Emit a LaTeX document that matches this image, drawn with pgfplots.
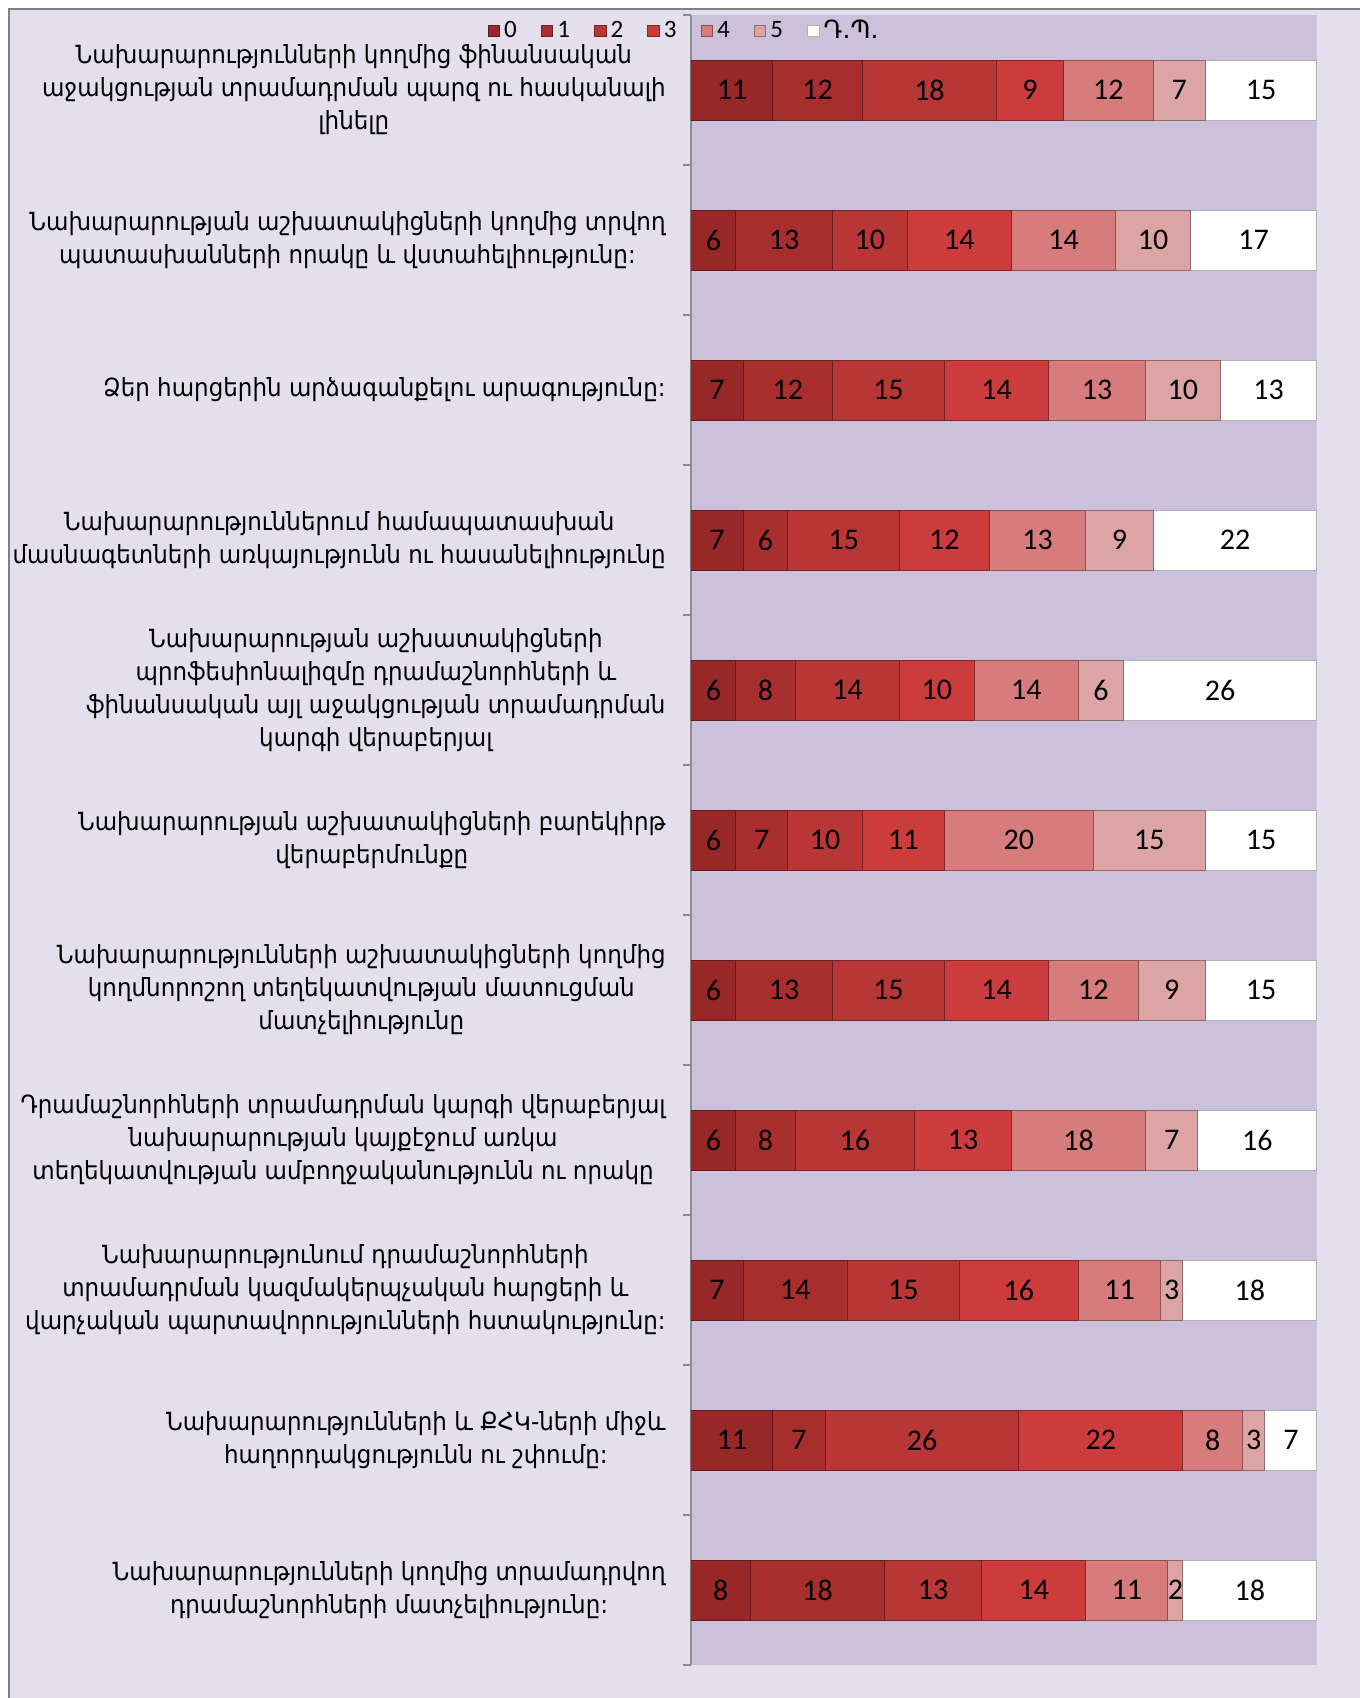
\documentclass[border=0pt]{standalone}
\usepackage{fontspec}
\setmainfont{Carlito}
\newfontfamily\armfont[FakeStretch=0.92]{DejaVu Sans}
\newfontfamily\armfontn{DejaVu Sans}
\usepackage{pgfplots}
\usepackage{pgfplotstable}
\pgfplotsset{compat=1.18}

\definecolor{chartbg}{RGB}{228,223,236}
\definecolor{plotbg}{RGB}{204,193,218}
\definecolor{cA}{RGB}{152,40,40}
\definecolor{cB}{RGB}{168,46,46}
\definecolor{cC}{RGB}{184,54,54}
\definecolor{cD}{RGB}{204,60,60}
\definecolor{cE}{RGB}{214,124,124}
\definecolor{cF}{RGB}{220,164,164}

\pgfplotstableread{
idx c0 c1 c2 c3 c4 c5 dp
0 11 12 18 9 12 7 15
1 6 13 10 14 14 10 17
2 7 12 15 14 13 10 13
3 7 6 15 12 13 9 22
4 6 8 14 10 14 6 26
5 6 7 10 11 20 15 15
6 6 13 15 14 12 9 15
7 6 8 16 13 18 7 16
8 7 14 15 16 11 3 18
9 11 7 26 22 8 3 7
10 8 18 13 14 11 2 18
}\data

\pgfplotsset{
  mybar/.style={draw=#1!65!black, line width=0.5pt, fill=#1,
    legend image code/.code={\draw[##1] (0pt,-2.9pt) rectangle (5.8pt,2.9pt);}},
  mywhite/.style={draw=black!30, line width=0.5pt, fill=white,
    legend image code/.code={\draw[##1] (0pt,-2.9pt) rectangle (5.8pt,2.9pt);}},
}

\begin{document}
\begin{tikzpicture}
\path[use as bounding box] (0,0) rectangle (680pt,849pt);
\filldraw[fill=chartbg, draw=black!50, line width=0.8pt] (4.5pt,-3pt) rectangle (684pt,844.5pt);
\begin{axis}[
  at={(345.5pt,16.5pt)}, anchor=south west,
  scale only axis, width=313pt, height=825pt,
  xbar stacked, bar width=30pt,
  xmin=0, xmax=84,
  ymin=-0.5, ymax=10.5, y dir=reverse,
  hide x axis,
  axis y line*=left,
  axis line style={draw=black!45, line width=0.8pt},
  axis background/.style={fill=plotbg},
  ytick={0,...,10},
  minor ytick={-0.5,0.5,...,10.5},
  major tick length=0pt, minor tick length=4pt,
  tick align=outside,
  tick style={draw=black!45, line width=0.8pt},
  yticklabels={
    {Նախարարությունների կողմից ֆինանսական\\աջակցության տրամադրման պարզ ու հասկանալի\\լինելը},
    {Նախարարության աշխատակիցների կողմից տրվող\\պատասխանների որակը և վստահելիությունը:},
    {Ձեր հարցերին արձագանքելու արագությունը:},
    {Նախարարություններում համապատասխան\\մասնագետների առկայությունն ու հասանելիությունը},
    {Նախարարության աշխատակիցների\\պրոֆեսիոնալիզմը դրամաշնորհների և\\ֆինանսական այլ աջակցության տրամադրման\\կարգի վերաբերյալ},
    {Նախարարության աշխատակիցների բարեկիրթ\\վերաբերմունքը},
    {Նախարարությունների աշխատակիցների կողմից\\կողմնորոշող տեղեկատվության մատուցման\\մատչելիությունը},
    {Դրամաշնորհների տրամադրման կարգի վերաբերյալ\\նախարարության կայքէջում առկա\\տեղեկատվության ամբողջականությունն ու որակը},
    {Նախարարությունում դրամաշնորհների\\տրամադրման կազմակերպչական հարցերի և\\վարչական պարտավորությունների հստակությունը:},
    {Նախարարությունների և ՔՀԿ-ների միջև\\հաղորդակցությունն ու շփումը:},
    {Նախարարությունների կողմից տրամադրվող\\դրամաշնորհների մատչելիությունը:}
  },
  yticklabel style={align=center, inner sep=0pt, xshift=-12.5pt,
    font=\armfont\fontsize{12.5}{16.5}\selectfont},
  visualization depends on=rawx\as\val,
  nodes near coords={\pgfmathprintnumber[assume math mode=true]{\val}},
  every node near coord/.append style={anchor=center,
    font=\fontsize{15}{18}\selectfont, text=black},
  legend columns=7,
  legend style={draw=none, fill=none, at={(-0.0096,0.9903)}, anchor=center,
    font=\fontsize{12.5}{14}\selectfont, inner sep=0pt,
    /tikz/every even column/.append style={column sep=10pt}},
]
\addplot[mybar=cA] table[x=c0,y=idx]{\data};
\addplot[mybar=cB] table[x=c1,y=idx]{\data};
\addplot[mybar=cC] table[x=c2,y=idx]{\data};
\addplot[mybar=cD] table[x=c3,y=idx]{\data};
\addplot[mybar=cE] table[x=c4,y=idx]{\data};
\addplot[mybar=cF] table[x=c5,y=idx]{\data};
\addplot[mywhite] table[x=dp,y=idx]{\data};
\legend{0,1,2,3,4,5,{\armfontn Դ.Պ.}}
\end{axis}
\end{tikzpicture}
\end{document}
